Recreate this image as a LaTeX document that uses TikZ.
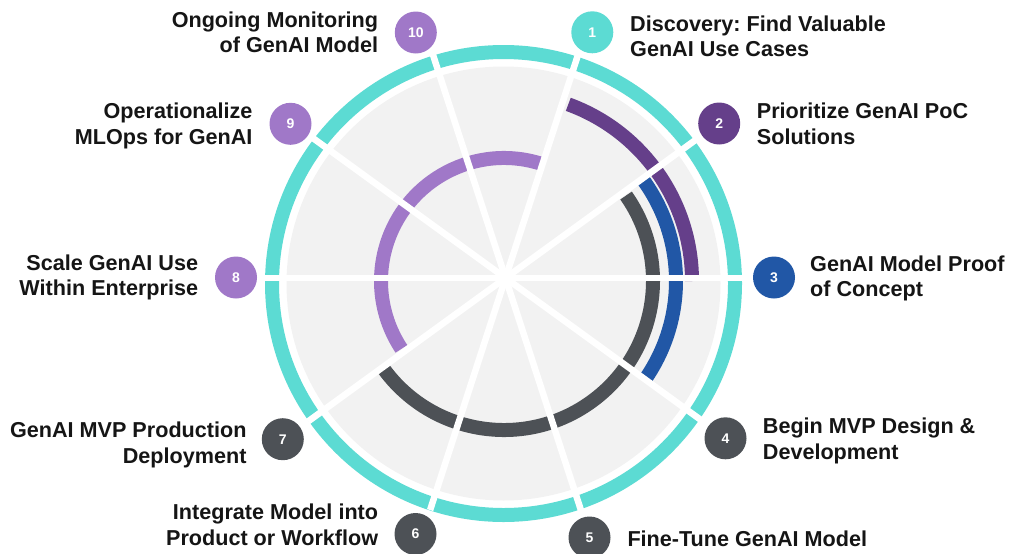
\documentclass[tikz,border=0pt]{standalone}
\usepackage{fontspec}
\setmainfont{Liberation Sans}
\frenchspacing
\definecolor{ringteal}{HTML}{5CDBD3}
\definecolor{diskgray}{HTML}{F2F2F2}
\definecolor{dpurple}{HTML}{653F8A}
\definecolor{lpurple}{HTML}{A078C8}
\definecolor{dblue}{HTML}{2157A6}
\definecolor{dgray}{HTML}{4D5156}
\definecolor{txt}{HTML}{151515}
\tikzset{
  arcband/.style={line width=14pt},
  spoke/.style={white, line width=6.5pt},
  badge/.style={circle, minimum size=42pt, inner sep=0pt, text=white,
    font=\fontsize{14}{14}\selectfont\bfseries},
  lbl/.style={inner sep=0pt, text=txt, font=\fontsize{21.6}{25.5}\selectfont\bfseries\frenchspacing},
  lblL/.style={lbl, align=left, anchor=base west},
  lblR/.style={lbl, align=right, anchor=base east}
}
\begin{document}
\begin{tikzpicture}[x=1pt,y=1pt]
\useasboundingbox (0,0) rectangle (1009,-554);
\coordinate (R) at (503.5,-283.5);
\coordinate (C) at (504,-281);
\coordinate (S) at (505.5,-278);
% disk and outer ring
\fill[diskgray] (R) circle[radius=217];
\draw[ringteal, line width=14pt] (R) circle[radius=231.5];
% arcs
\draw[arcband, dpurple] ([shift={(0:188)}]C) arc[start angle=0, end angle=70, radius=188];
\draw[arcband, dblue] ([shift={(-34.5:172)}]C) arc[start angle=-34.5, end angle=36, radius=172];
\draw[arcband, dgray] ([shift={(-144:149)}]C) arc[start angle=-144, end angle=35, radius=149];
\draw[arcband, lpurple] ([shift={(72.5:123)}]C) arc[start angle=72.5, end angle=213.5, radius=123];
% spokes
\foreach \a in {0,36,...,324} \draw[spoke] (S) -- ++(\a:244);
% badges
\node[badge, fill=ringteal] (b1) at (592.3,-32.3) {1};
\node[badge, fill=dpurple] (b2) at (719.2,-123.5) {2};
\node[badge, fill=dblue] (b3) at (774,-277.5) {3};
\node[badge, fill=dgray] (b4) at (725.5,-438.3) {4};
\node[badge, fill=dgray] (b5) at (589.5,-537.5) {5};
\node[badge, fill=dgray] (b6) at (415.5,-534) {6};
\node[badge, fill=dgray] (b7) at (282.8,-439.2) {7};
\node[badge, fill=lpurple] (b8) at (236,-277.5) {8};
\node[badge, fill=lpurple] (b9) at (290.5,-123.8) {9};
\node[badge, fill=lpurple] (b10) at (415.8,-32.5) {10};
% labels (anchor = baseline of last line)
\node[lblL] (t1) at (630,-56.7) {Discovery: Find Valuable\\GenAI Use Cases};
\node[lblL] (t2) at (756.7,-144) {Prioritize GenAI PoC\\Solutions};
\node[lblL] (t3) at (810,-296.7) {GenAI Model Proof\\of Concept};
\node[lblL] (t4) at (762.7,-459.3) {Begin MVP Design \&\\Development};
\node[lblL] (t5) at (627.3,-546.7) {Fine-Tune GenAI Model};
\node[lblR] (t6) at (378.3,-545) {Integrate Model into\\Product or Workflow};
\node[lblR] (t7) at (246.7,-463.3) {GenAI MVP Production\\Deployment};
\node[lblR] (t8) at (198.3,-295.7) {Scale GenAI Use\\Within Enterprise};
\node[lblR] (t9) at (252.7,-144) {Operationalize\\MLOps for GenAI};
\node[lblR] (t10) at (378.3,-52.7) {Ongoing Monitoring\\of GenAI Model};
\end{tikzpicture}
\end{document}
